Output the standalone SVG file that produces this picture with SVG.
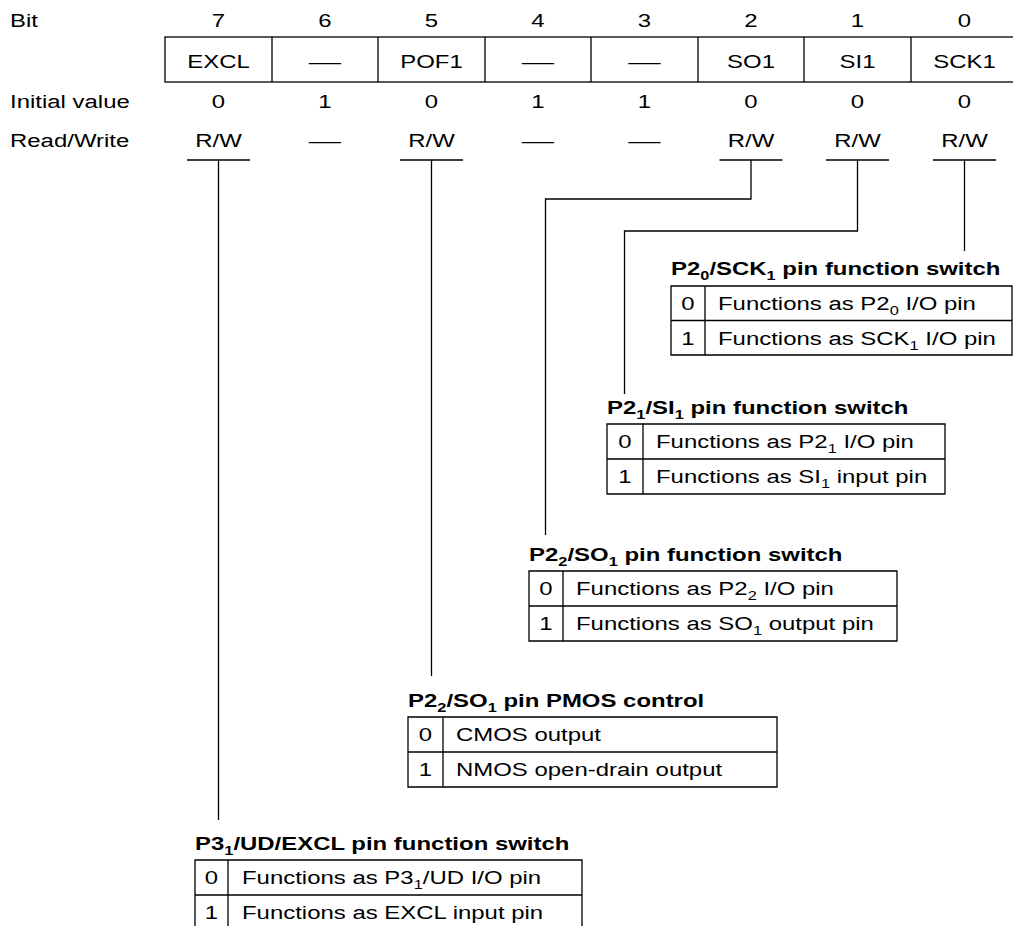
<svg xmlns="http://www.w3.org/2000/svg" width="1013" height="926" viewBox="0 0 1013 926">
<style>
.t{font-family:"Liberation Sans",Arial,Helvetica,sans-serif;font-size:19px;fill:#000}
.c{text-anchor:middle}
.b{font-weight:bold}
.s{font-size:13px}
.ln{stroke:#000;stroke-width:1.3;fill:none}
</style>
<rect width="1013" height="926" fill="#fff"/>
<g id="labels" class="t">
<text transform="matrix(1.26 0 0 1 10 27)">Bit</text>
<text transform="matrix(1.26 0 0 1 10 108)">Initial value</text>
<text transform="matrix(1.26 0 0 1 10 147)">Read/Write</text>
</g>
<g id="register">
<rect class="ln" x="165" y="37" width="853" height="45"/>
<path class="ln" d="M272 37V82M378 37V82M485 37V82M591 37V82M698 37V82M804 37V82M911 37V82"/>
<g class="t c">
<text transform="matrix(1.26 0 0 1 218.5 27)">7</text>
<text transform="matrix(1.26 0 0 1 325 27)">6</text>
<text transform="matrix(1.26 0 0 1 431.5 27)">5</text>
<text transform="matrix(1.26 0 0 1 538 27)">4</text>
<text transform="matrix(1.26 0 0 1 644.5 27)">3</text>
<text transform="matrix(1.26 0 0 1 751 27)">2</text>
<text transform="matrix(1.26 0 0 1 857.5 27)">1</text>
<text transform="matrix(1.26 0 0 1 964.5 27)">0</text>
<text transform="matrix(1.26 0 0 1 218.5 68)">EXCL</text>
<text transform="matrix(1.7 0 0 1 325 68)">—</text>
<text transform="matrix(1.26 0 0 1 431.5 68)">POF1</text>
<text transform="matrix(1.7 0 0 1 538 68)">—</text>
<text transform="matrix(1.7 0 0 1 644.5 68)">—</text>
<text transform="matrix(1.26 0 0 1 751 68)">SO1</text>
<text transform="matrix(1.26 0 0 1 857.5 68)">SI1</text>
<text transform="matrix(1.26 0 0 1 964.5 68)">SCK1</text>
<text transform="matrix(1.26 0 0 1 218.5 108)">0</text>
<text transform="matrix(1.26 0 0 1 325 108)">1</text>
<text transform="matrix(1.26 0 0 1 431.5 108)">0</text>
<text transform="matrix(1.26 0 0 1 538 108)">1</text>
<text transform="matrix(1.26 0 0 1 644.5 108)">1</text>
<text transform="matrix(1.26 0 0 1 751 108)">0</text>
<text transform="matrix(1.26 0 0 1 857.5 108)">0</text>
<text transform="matrix(1.26 0 0 1 964.5 108)">0</text>
<text transform="matrix(1.26 0 0 1 218.5 147)">R/W</text>
<text transform="matrix(1.7 0 0 1 325 147)">—</text>
<text transform="matrix(1.26 0 0 1 431.5 147)">R/W</text>
<text transform="matrix(1.7 0 0 1 538 147)">—</text>
<text transform="matrix(1.7 0 0 1 644.5 147)">—</text>
<text transform="matrix(1.26 0 0 1 751 147)">R/W</text>
<text transform="matrix(1.26 0 0 1 857.5 147)">R/W</text>
<text transform="matrix(1.26 0 0 1 964.5 147)">R/W</text>
</g>
<path class="ln" d="M187 160H250M400 160H463M719.5 160H782.5M826 160H889M933 160H996"/>
</g>
<g id="connectors" class="ln">
<path d="M218.5 160V820"/>
<path d="M431.5 160V676"/>
<path d="M751 160V199H545.5V535"/>
<path d="M857.5 160V231H624.5V394"/>
<path d="M964.5 160V251"/>
</g>
<g id="t-sck1" class="t">
<text class="b" transform="matrix(1.26 0 0 1 671 275)">P2<tspan class="s" dy="5">0</tspan><tspan dy="-5">/SCK</tspan><tspan class="s" dy="5">1</tspan><tspan dy="-5"> pin function switch</tspan></text>
<path class="ln" d="M671 286H1012V355H671ZM671 320.5H1012M705 286V355"/>
<text class="c" transform="matrix(1.26 0 0 1 688 310)">0</text>
<text transform="matrix(1.26 0 0 1 718 310)">Functions as P2<tspan class="s" dy="5">0</tspan><tspan dy="-5"> I/O pin</tspan></text>
<text class="c" transform="matrix(1.26 0 0 1 688 345)">1</text>
<text transform="matrix(1.26 0 0 1 718 345)">Functions as SCK<tspan class="s" dy="5">1</tspan><tspan dy="-5"> I/O pin</tspan></text>
</g>
<g id="t-si1" class="t">
<text class="b" transform="matrix(1.26 0 0 1 607 414)">P2<tspan class="s" dy="5">1</tspan><tspan dy="-5">/SI</tspan><tspan class="s" dy="5">1</tspan><tspan dy="-5"> pin function switch</tspan></text>
<path class="ln" d="M607 424H945V494H607ZM607 459H945M643 424V494"/>
<text class="c" transform="matrix(1.26 0 0 1 625 448)">0</text>
<text transform="matrix(1.26 0 0 1 656 448)">Functions as P2<tspan class="s" dy="5">1</tspan><tspan dy="-5"> I/O pin</tspan></text>
<text class="c" transform="matrix(1.26 0 0 1 625 483)">1</text>
<text transform="matrix(1.26 0 0 1 656 483)">Functions as SI<tspan class="s" dy="5">1</tspan><tspan dy="-5"> input pin</tspan></text>
</g>
<g id="t-so1" class="t">
<text class="b" transform="matrix(1.26 0 0 1 529 561)">P2<tspan class="s" dy="5">2</tspan><tspan dy="-5">/SO</tspan><tspan class="s" dy="5">1</tspan><tspan dy="-5"> pin function switch</tspan></text>
<path class="ln" d="M529 571H897V641H529ZM529 606H897M563 571V641"/>
<text class="c" transform="matrix(1.26 0 0 1 546 595)">0</text>
<text transform="matrix(1.26 0 0 1 576 595)">Functions as P2<tspan class="s" dy="5">2</tspan><tspan dy="-5"> I/O pin</tspan></text>
<text class="c" transform="matrix(1.26 0 0 1 546 630)">1</text>
<text transform="matrix(1.26 0 0 1 576 630)">Functions as SO<tspan class="s" dy="5">1</tspan><tspan dy="-5"> output pin</tspan></text>
</g>
<g id="t-pof1" class="t">
<text class="b" transform="matrix(1.26 0 0 1 408 707)">P2<tspan class="s" dy="5">2</tspan><tspan dy="-5">/SO</tspan><tspan class="s" dy="5">1</tspan><tspan dy="-5"> pin PMOS control</tspan></text>
<path class="ln" d="M408 717H777V787H408ZM408 752H777M443 717V787"/>
<text class="c" transform="matrix(1.26 0 0 1 425.5 741)">0</text>
<text transform="matrix(1.26 0 0 1 456 741)">CMOS output</text>
<text class="c" transform="matrix(1.26 0 0 1 425.5 776)">1</text>
<text transform="matrix(1.26 0 0 1 456 776)">NMOS open-drain output</text>
</g>
<g id="t-excl" class="t">
<text class="b" transform="matrix(1.26 0 0 1 195 850)">P3<tspan class="s" dy="5">1</tspan><tspan dy="-5">/UD/EXCL pin function switch</tspan></text>
<path class="ln" d="M195 860H582V930H195ZM195 895H582M228 860V930"/>
<text class="c" transform="matrix(1.26 0 0 1 211.5 884)">0</text>
<text transform="matrix(1.26 0 0 1 242 884)">Functions as P3<tspan class="s" dy="5">1</tspan><tspan dy="-5">/UD I/O pin</tspan></text>
<text class="c" transform="matrix(1.26 0 0 1 211.5 919)">1</text>
<text transform="matrix(1.26 0 0 1 242 919)">Functions as EXCL input pin</text>
</g>
</svg>
